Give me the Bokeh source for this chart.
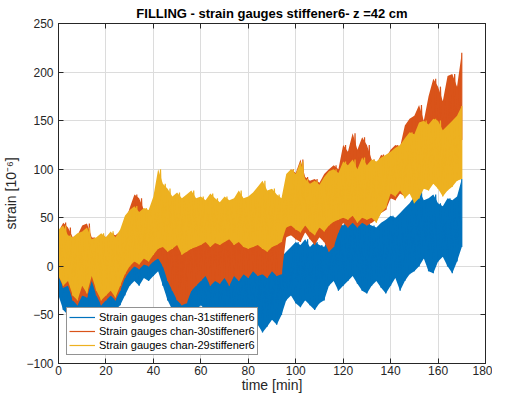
from bokeh.plotting import figure
from bokeh.models import Range1d, LinearAxis, FixedTicker, Legend, LegendItem, CustomJSTickFormatter
from bokeh.embed import file_html
from bokeh.resources import INLINE

# sample times [min] (2-min reading grid)
t_min = list(range(0, 172, 2))

# chan-29 (yellow) envelope
y29_hi = [38, 42, 32, 30, 34, 36, 40, 28, 30, 34,
          30, 36, 30, 38, 52, 58, 62, 56, 60, 58,
          72, 100, 85, 80, 72, 76, 70, 74, 78, 70,
          72, 68, 75, 70, 66, 72, 68, 70, 78, 70,
          72, 76, 82, 88, 78, 80, 74, 70, 95, 100,
          95, 108, 90, 85, 88, 84, 92, 98, 100, 96,
          108, 104, 110, 100, 112, 104, 110, 108, 112, 115,
          118, 122, 125, 132, 138, 136, 148, 150, 146, 152,
          150, 140, 145, 150, 155, 165]
y29_lo = [-10, -20, -15, -30, -35, -20, -28, -10, -25, -35,
          -30, -25, -32, -20, -8, 0, 5, 2, 8, 5,
          12, 18, 20, 15, 18, 22, 12, 15, 18, 20,
          22, 25, 20, 24, 22, 25, 28, 22, 25, 20,
          18, 20, 22, 18, 15, 20, 22, 25, 40, 42,
          38, 35, 42, 36, 32, 40, 36, 42, 46, 48,
          50, 48, 52, 45, 50, 48, 50, 45, 55, 60,
          75, 72, 78, 70, 75, 65, 70, 80, 78, 85,
          80, 72, 78, 82, 88, 90]

# chan-30 (orange)
y30_hi = [36, 45, 40, 30, 32, 42, 44, 30, 28, 32,
          30, 34, 32, 36, 45, 60, 74, 70, 58, 56,
          65, 80, 60, 55, 50, 55, 45, 48, 52, 58,
          55, 50, 56, 60, 55, 52, 58, 54, 50, 55,
          58, 52, 60, 56, 50, 54, 58, 60, 90, 100,
          96, 110, 92, 88, 90, 86, 95, 100, 104, 100,
          125, 118, 137, 120, 133, 125, 110, 105, 115, 112,
          120, 125, 123, 145, 152, 155, 166, 150, 175, 193,
          185, 170, 196, 198, 185, 220]
y30_lo = [-10, -22, -20, -35, -40, -30, -32, -15, -30, -40,
          -35, -30, -35, -25, -12, -5, 0, -3, 2, 0,
          5, 8, 0, -15, -25, -35, -40, -38, -25, -20,
          -15, -10, -20, -15, -18, -12, -20, -10, -15, -8,
          -12, -5, -10, -8, -12, -5, -10, -8, 30, 32,
          28, 25, 35, 28, 22, 30, 25, 15, 20, 35,
          45, 40, 45, 40, 45, 42, 45, 48, 55, 58,
          70, 68, 75, 72, 80, 85, 90, 95, 100, 105,
          100, 110, 115, 112, 120, 130]

# chan-31 (blue)
y31_hi = [25, 20, 15, 10, 5, 15, 10, 12, 5, 10,
          15, 18, 15, 20, 22, 25, 28, 25, 22, 28,
          30, 25, 24, 20, 18, 12, 10, 8, 12, 10,
          8, 5, 12, 8, 5, 10, 8, 3, 10, 6,
          2, 6, 10, 4, 0, 3, 6, 10, 15, 20,
          25, 22, 28, 20, 25, 22, 20, 30, 40, 45,
          42, 48, 50, 45, 48, 44, 42, 40, 45, 48,
          52, 50, 55, 60, 65, 72, 78, 68, 70, 74,
          65, 62, 70, 68, 72, 90]
y31_lo = [-30, -45, -50, -55, -60, -50, -55, -45, -60, -65,
          -55, -50, -45, -40, -30, -20, -15, -20, -12, -15,
          -10, -5, -20, -35, -45, -55, -60, -58, -50, -45,
          -40, -45, -50, -45, -50, -55, -50, -60, -55, -58,
          -62, -65, -60, -68, -62, -55, -60, -50, -35, -30,
          -38, -42, -35, -40, -45, -38, -35, -20, -15, -25,
          -20, -15, -10, -18, -25, -28, -20, -15, -22, -28,
          -20, -12, -25, -15, -8, -5, 0, 8, -5, -7,
          5, 10, 0, -7, 5, 20]

x_ticks = [0, 20, 40, 60, 80, 100, 120, 140, 160, 180]
y_ticks = [-100, -50, 0, 50, 100, 150, 200, 250]

labels = ["Strain gauges chan-31stiffener6",
          "Strain gauges chan-30stiffener6",
          "Strain gauges chan-29stiffener6"]
colors = ["#0072BD", "#D95319", "#EDB120"]

FONT = "Liberation Sans"
AX = "#262626"

p = figure(width=492, height=395, output_backend="svg", toolbar_location=None,
           x_range=Range1d(0, 180), y_range=Range1d(-100, 250),
           min_border_left=50, min_border_right=7, min_border_top=0,
           min_border_bottom=0)

p.title.text = "FILLING - strain gauges stiffener6- z =42 cm"
p.title.align = "center"
p.title.text_font = FONT
p.title.text_font_size = "13px"
p.title.text_font_style = "bold"
p.title.text_color = "#000000"
p.title.standoff = 6


def zig(ts, lo, hi):
    xs, ys = [], []
    for t, a, b in zip(ts, lo, hi):
        xs += [t, min(t + 1, ts[-1])]
        ys += [a, b]
    return xs, ys


renderers = []
for (lo, hi), c in zip([(y31_lo, y31_hi), (y30_lo, y30_hi), (y29_lo, y29_hi)], colors):
    p.varea(x=t_min, y1=lo, y2=hi, fill_color=c, fill_alpha=1)
    xs, ys = zig(t_min, lo, hi)
    r = p.line(xs, ys, line_color=c, line_width=1.2)
    renderers.append(r)

for ax in [p.xaxis[0], p.yaxis[0]]:
    ax.major_tick_in = 5
    ax.major_tick_out = 0
    ax.minor_tick_line_color = None
    ax.axis_line_color = AX
    ax.major_tick_line_color = AX
    ax.major_label_text_font = FONT
    ax.major_label_text_font_size = "12px"
    ax.major_label_text_color = AX
    ax.axis_label_text_font = FONT
    ax.axis_label_text_font_size = "14px"
    ax.axis_label_text_font_style = "normal"
    ax.axis_label_text_color = AX

p.xaxis[0].ticker = FixedTicker(ticks=x_ticks)
p.yaxis[0].ticker = FixedTicker(ticks=y_ticks)
p.xaxis[0].axis_label = "time [min]"
p.yaxis[0].axis_label = "strain [10⁻⁶]"
p.xaxis[0].major_label_standoff = 2
p.xaxis[0].axis_label_standoff = -1
p.yaxis[0].major_label_standoff = 5
p.yaxis[0].axis_label_standoff = 4

for side, tk in [("right", y_ticks), ("above", x_ticks)]:
    a = LinearAxis(ticker=FixedTicker(ticks=tk), major_tick_in=5, major_tick_out=0,
                   minor_tick_line_color=None, axis_line_color=AX,
                   major_tick_line_color=AX, major_label_text_color=None,
                   formatter=CustomJSTickFormatter(code="return ''"),
                   major_label_standoff=0)
    p.add_layout(a, side)

p.xgrid.ticker = FixedTicker(ticks=x_ticks)
p.ygrid.ticker = FixedTicker(ticks=y_ticks)
p.grid.grid_line_color = "#dcdcdc"
p.grid.grid_line_width = 1
p.outline_line_color = AX

legend = Legend(items=[LegendItem(label=l, renderers=[r]) for l, r in zip(labels, renderers)],
                location=(8, 8), label_text_font=FONT, label_text_font_size="11px",
                label_text_color="#000000", glyph_width=26, glyph_height=14,
                label_height=14, spacing=0, padding=2, label_standoff=4,
                border_line_color=AX, border_line_width=1, background_fill_alpha=1)
p.add_layout(legend, "center")

open("out.html", "w").write(file_html(p, INLINE))
